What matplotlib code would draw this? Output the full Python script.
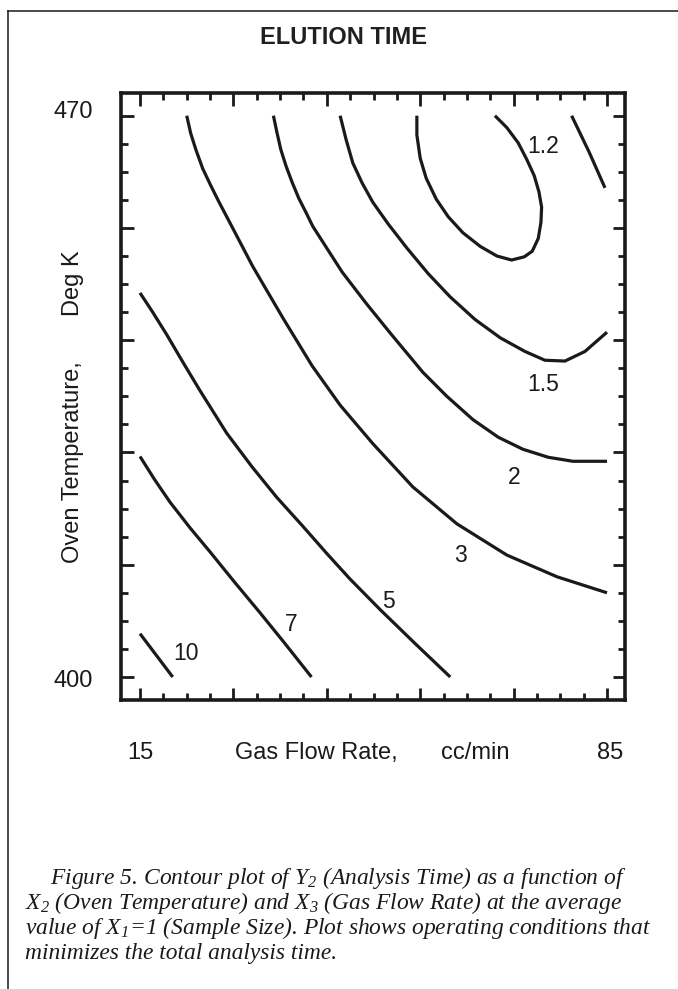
import matplotlib
matplotlib.use("Agg")
import matplotlib.pyplot as plt
import matplotlib.transforms as mtransforms
from matplotlib.lines import Line2D
from matplotlib.ticker import FixedLocator

plt.rcParams['font.family'] = ['Liberation Sans', 'DejaVu Sans']
plt.rcParams['mathtext.fontset'] = 'custom'
plt.rcParams['mathtext.rm'] = 'Liberation Serif:italic'
plt.rcParams['mathtext.it'] = 'Liberation Serif:italic'

# ---------------- data ----------------
title = "ELUTION TIME"
x_label_left = "Gas Flow Rate,"
x_label_right = "cc/min"
y_label_low = "Oven Temperature,"
y_label_high = "Deg K"
x_range = [15, 85]          # gas flow rate, cc/min
y_range = [400, 470]        # oven temperature, deg K
x_major = [15, 29, 43, 57, 71, 85]
y_major = [400, 414, 428, 442, 456, 470]
minor_step = 3.5

# contour traces (x = gas flow, y = oven temperature)
c10_x = [15.0, 19.9]
c10_y = [405.4, 400.0]

c7_x = [15.0, 17.2, 19.5, 22.5, 25.5, 29.2, 33.0, 36.7, 40.7]
c7_y = [427.5, 424.6, 421.8, 418.6, 415.6, 411.8, 408.0, 404.2, 400.0]

c5_x = [15.0, 16.9, 19.0, 21.4, 24.0, 28.0, 31.8, 35.5, 39.3, 43.0, 46.5, 51.0, 56.2, 61.5]
c5_y = [447.9, 445.5, 442.7, 439.3, 435.7, 430.4, 426.2, 422.4, 418.9, 415.4, 412.2, 408.4,
        404.2, 400.0]

c3_x = [22.0, 22.6, 23.4, 24.4, 25.6, 26.8, 28.0, 31.9, 36.4, 40.8, 45.0, 49.9, 55.9, 62.5,
        70.0, 77.5, 85.0]
c3_y = [470.0, 467.8, 465.7, 463.4, 461.3, 459.3, 457.4, 451.2, 444.8, 438.8, 433.9, 429.1,
        423.7, 419.1, 415.2, 412.5, 410.5]

c2_x = [35.0, 35.5, 36.1, 36.9, 37.8, 38.8, 39.9, 40.9, 45.3, 48.9, 52.5, 57.4, 61.0, 64.9,
        68.7, 72.4, 76.2, 79.9, 85.0]
c2_y = [470.0, 468.0, 465.8, 463.7, 461.7, 459.7, 457.9, 456.2, 450.5, 446.6, 442.9, 438.0,
        435.0, 432.1, 429.9, 428.4, 427.4, 426.9, 426.9]

c15_x = [45.0, 45.9, 46.9, 48.3, 49.9, 52.2, 55.0, 58.2, 61.5, 65.2, 69.0, 72.7, 75.7, 78.7, 81.7, 85.0]
c15_y = [470.0, 467.0, 464.1, 461.6, 459.2, 456.5, 453.5, 450.3, 447.4, 444.6, 442.3, 440.6, 439.5,
         439.4, 440.6, 443.0]

c15b_x = [79.7, 82.3, 84.7]
c15b_y = [470.0, 465.5, 461.0]

c12_x = [56.5, 56.5, 57.0, 57.9, 59.4, 61.2, 63.4, 66.0, 68.5, 70.7, 72.6, 73.8, 74.7, 75.1, 75.2,
         74.8, 74.1, 73.0, 71.7, 70.0, 68.2]
c12_y = [470.0, 467.6, 464.7, 462.2, 459.6, 457.4, 455.4, 453.7, 452.5, 452.0, 452.4, 453.1, 454.7,
         456.7, 458.6, 460.5, 462.5, 464.5, 466.6, 468.5, 470.0]

contour_traces = [(c10_x, c10_y), (c7_x, c7_y), (c5_x, c5_y), (c3_x, c3_y),
                  (c2_x, c2_y), (c15_x, c15_y), (c15b_x, c15b_y), (c12_x, c12_y)]

level_labels = ["1.2", "1.5", "2", "3", "5", "7", "10"]
label_x = [75.4, 75.4, 71.1, 63.0, 52.3, 37.6, 21.9]
label_y = [466.1, 436.5, 424.9, 415.1, 409.4, 406.5, 402.9]

caption_lines = [
    "Figure 5. Contour plot of Y${}_2$ (Analysis Time) as a function of",
    "X${}_2$ (Oven Temperature) and X${}_3$ (Gas Flow Rate) at the average",
    "value of X${}_1$=1 (Sample Size). Plot shows operating conditions that",
    "minimizes the total analysis time.",
]

# ---------------- figure ----------------
W, H = 678, 989
fig = plt.figure(figsize=(W / 100, H / 100), dpi=100)
fig.patch.set_facecolor("white")

ink = "#1a1a1a"

# page frame (top and left rules)
fig.add_artist(Line2D([8 / W, 1.0], [1 - 11 / H, 1 - 11 / H], transform=fig.transFigure,
                      color=ink, lw=1.1))
fig.add_artist(Line2D([8 / W, 8 / W], [0.0, 1 - 11 / H], transform=fig.transFigure,
                      color=ink, lw=1.1))

ax = fig.add_axes([121 / W, 1 - 700 / H, 504 / W, 607 / H])
ax.set_xlim(12.15, 87.7)
ax.set_ylim(397.13, 472.83)

for x, y in contour_traces:
    ax.plot(x, y, color=ink, lw=2.3, solid_capstyle="butt", solid_joinstyle="round")

for t, x, y in zip(level_labels, label_x, label_y):
    ax.text(x, y, t, ha="center", va="center", fontsize=16.5, color=ink)

# ticks
x_minor = [x_range[0] + minor_step * k for k in range(int((x_range[1] - x_range[0]) / minor_step) + 1)]
y_minor = [y_range[0] + minor_step * k for k in range(int((y_range[1] - y_range[0]) / minor_step) + 1)]
ax.xaxis.set_major_locator(FixedLocator(x_major))
ax.xaxis.set_minor_locator(FixedLocator(x_minor))
ax.yaxis.set_major_locator(FixedLocator(y_major))
ax.yaxis.set_minor_locator(FixedLocator(y_minor))
ax.tick_params(which="both", direction="in", top=True, right=True, color=ink,
               labelbottom=False, labelleft=False)
ax.tick_params(which="major", length=9, width=2.0)
ax.tick_params(which="minor", length=5, width=2.0)
for s in ax.spines.values():
    s.set_linewidth(2.6)
    s.set_color(ink)

# axis end labels
bx = mtransforms.blended_transform_factory(ax.transData, fig.transFigure)
by = mtransforms.blended_transform_factory(fig.transFigure, ax.transData)
ax.text(x_range[0], 1 - 753 / H, str(x_range[0]), transform=bx, ha="center", va="center",
        fontsize=17, color=ink)
ax.text(x_range[1] + 0.4, 1 - 753 / H, str(x_range[1]), transform=bx, ha="center", va="center",
        fontsize=17, color=ink)
ax.text(73 / W, y_range[1] + 0.5, str(y_range[1]), transform=by, ha="center", va="center",
        fontsize=17, color=ink)
ax.text(73 / W, y_range[0] - 0.5, str(y_range[0]), transform=by, ha="center", va="center",
        fontsize=17, color=ink)

# axis titles
fig.text(235 / W, 1 - 753 / H, x_label_left, ha="left", va="center", fontsize=17, color=ink)
fig.text(510 / W, 1 - 753 / H, x_label_right, ha="right", va="center", fontsize=17, color=ink)
fig.text(73 / W, 1 - 563 / H, y_label_low, rotation=90, ha="center", va="bottom",
         fontsize=17, color=ink)
fig.text(73 / W, 1 - 250 / H, y_label_high, rotation=90, ha="center", va="top",
         fontsize=17, color=ink)

# title
fig.text(343 / W, 1 - 37.5 / H, title, ha="center", va="center", fontsize=17,
         fontweight="bold", color="#231f20")

# caption
cap_x = [50, 25, 25, 25]
cap_base = [884, 909, 934, 959]
for line, cx, cy in zip(caption_lines, cap_x, cap_base):
    fig.text(cx / W, 1 - cy / H, line, ha="left", va="baseline", fontsize=16.9,
             family="Liberation Serif", style="italic", color=ink)

fig.savefig("out.png", dpi=100, facecolor="white")
